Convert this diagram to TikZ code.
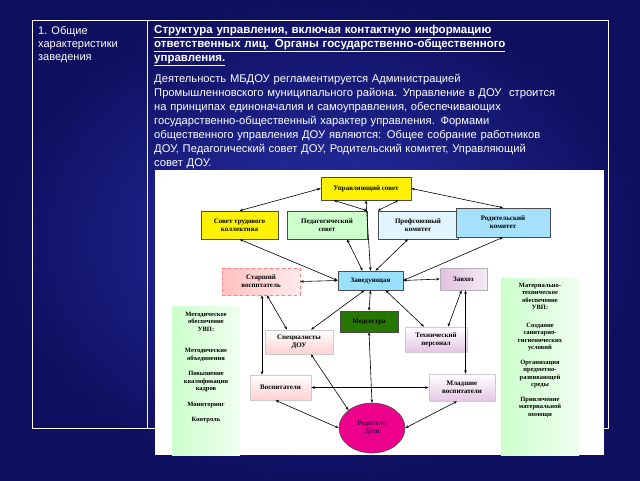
\documentclass[tikz,border=0pt]{standalone}
\usepackage{fontspec}
\setmainfont{Liberation Sans}
\newfontfamily\dserif{Liberation Serif}
\usetikzlibrary{shapes.geometric,arrows.meta}
\definecolor{bgin}{RGB}{40,50,170}
\definecolor{bgout}{RGB}{15,15,95}
\begin{document}
\begin{tikzpicture}[x=1pt,y=-1pt,
  bx/.style={draw=black!70,line width=0.6pt,align=center,font=\dserif\bfseries\fontsize{7}{8}\selectfont,inner sep=1pt},
  ar/.style={{Stealth[length=3.5pt]}-{Stealth[length=3.5pt]},line width=0.6pt},
  sidebg/.style={left color=green!20!white,right color=green!6!white},
  side/.style={align=center,font=\dserif\bfseries\fontsize{6.5}{7.5}\selectfont,inner sep=2pt,anchor=north}]
\useasboundingbox (0,0) rectangle (640,480);
\shade[inner color=bgin,outer color=bgout] (0,0) rectangle (640,480);
\fill[white] (155,170) rectangle (604,455);
\draw[white,line width=0.8pt] (155,428) -- (32,428) -- (32,20) -- (608,20) -- (608,428) -- (604,428);
\draw[white,line width=0.8pt] (147,20) -- (147,428);
\node[anchor=north west,text=white,align=left,font=\fontsize{11}{13}\selectfont,inner sep=0pt] (h1) at (38,26) {1. Общие\\характеристики\\заведения};
\node[anchor=north west,text=white,align=left,font=\bfseries\fontsize{11.5}{14}\selectfont,inner sep=0pt,text width=450pt] (h2) at (154,25) {\underline{Структура управления, включая контактную информацию}\\\underline{ответственных лиц. Органы государственно-общественного}\\\underline{управления.}};
\node[anchor=north west,text=white,align=left,font=\fontsize{11.2}{14}\selectfont,inner sep=0pt,text width=460pt] (h3) at (154,74) {Деятельность МБДОУ регламентируется Администрацией\\Промышленновского муниципального района. Управление в ДОУ\ \ строится\\на принципах единоначалия и самоуправления, обеспечивающих\\государственно-общественный характер управления. Формами\\общественного управления ДОУ являются: Общее собрание работников\\ДОУ, Педагогический совет ДОУ, Родительский комитет, Управляющий\\совет ДОУ.};
% side boxes
\shade[sidebg] (172,306) rectangle (240,455);
\shade[sidebg] (501,278) rectangle (579,455);
\node[side] (L) at (206,310) {Методическое\\обеспечение\\УВП:\\[14pt]Методические\\объединения\\[8pt]Повышение\\квалификации\\кадров\\[8pt]Мониторинг\\[8pt]Контроль};
\node[side] (R) at (540,281) {Материально-\\техническое\\обеспечение\\УВП:\\[10pt]Создание\\санитарно-\\гигиенических\\условий\\[7pt]Организация\\предметно-\\развивающей\\среды\\[7pt]Привлечение\\материальной\\помощи};
% nodes
\node[bx,fill=yellow,minimum width=90pt,minimum height=23pt] (us) at (366,188.5) {Управляющий совет};
\node[bx,fill=yellow,minimum width=77pt,minimum height=28pt] (stk) at (239.5,225) {Совет трудового\\коллектива};
\node[bx,fill=green!20,minimum width=80pt,minimum height=28pt] (ps) at (327,225) {Педагогический\\совет};
\node[bx,fill=cyan!12,minimum width=80pt,minimum height=28pt] (pk) at (418,225) {Профсоюзный\\комитет};
\node[bx,fill=blue!35!cyan!35,minimum width=94pt,minimum height=29pt] (rk) at (503,222.5) {Родительский\\комитет};
\node[bx,fill=blue!30!cyan!40,minimum width=65pt,minimum height=19pt] (zav) at (370.5,280.5) {Заведующая};
\node[bx,draw=red!50,dashed,left color=red!25,right color=red!8,minimum width=78pt,minimum height=27pt] (sv) at (261,281.5) {Старший\\воспитатель};
\node[bx,draw=black!30,left color=violet!25,right color=violet!8,minimum width=47pt,minimum height=22pt] (zx) at (463.5,279) {Завхоз};
\node[bx,fill=green!45!black!70!olive,minimum width=58pt,minimum height=21pt] (med) at (369,321.5) {Медсестра};
\node[bx,draw=black!20,top color=white,bottom color=red!18,minimum width=68pt,minimum height=24pt] (sp) at (299,342) {Специалисты\\ДОУ};
\node[bx,draw=black!20,top color=white,bottom color=violet!22,minimum width=62pt,minimum height=25pt] (tp) at (436,339.5) {Технический\\персонал};
\node[bx,draw=black!20,top color=white,bottom color=red!18,minimum width=61pt,minimum height=25pt] (vos) at (280.5,387.5) {Воспитатели};
\node[bx,draw=black!20,top color=white,bottom color=violet!22,minimum width=66pt,minimum height=27pt] (mv) at (462,387.5) {Младшие\\воспитатели};
\node[bx,ellipse,fill=magenta,text=violet!60!black,inner sep=0pt,minimum width=66pt,minimum height=50pt] (rd) at (372,428) {Родители\\Дети};
% arrows
\draw[ar] (us.west) -- (stk.north);
\draw[ar] ([xshift=13pt]us.south west) -- (ps.north east);
\draw[ar] ([xshift=-13pt]us.south east) -- (pk.north west);
\draw[ar] (us.east) -- (rk.north);
\draw[ar] (us.south) -- (zav.north);
\draw[ar] (stk.south) -- (zav.west);
\draw[ar] ([xshift=20pt]ps.south) -- ([xshift=-8pt]zav.north);
\draw[ar] ([xshift=-10pt]pk.south) -- ([xshift=5pt]zav.north);
\draw[ar] (rk.south) -- (zav.east);
\draw[ar] (sv.east) -- (zav.west);
\draw[ar] (zav.east) -- (zx.west);
\draw[ar] (zav.south) -- (med.north);
\draw[ar] ([xshift=-6pt]zav.south) -- ([xshift=12pt]sp.north);
\draw[ar] ([xshift=15pt]zav.south) -- ([xshift=-12pt]tp.north);
\draw[ar] ([xshift=6pt]sv.south) -- ([xshift=-12pt]sp.north);
\draw[ar] ([xshift=1pt]sv.south) -- ([xshift=1pt]sv.south |- vos.north);
\draw[ar] ([xshift=-2pt]zx.south) -- ([xshift=12pt]tp.north);
\draw[ar] ([xshift=2pt]zx.south) -- ([xshift=2pt]zx.south |- mv.north);
\draw[ar] (vos.east) -- (mv.west);
\draw[ar] (med.south) -- (rd.north);
\draw[ar] ([xshift=12pt]sp.south) -- (rd.north west);
\draw[ar] ([xshift=-5pt]vos.south) -- (rd.west);
\draw[ar] ([xshift=-5pt]mv.south) -- (rd.east);
\end{tikzpicture}
\end{document}
